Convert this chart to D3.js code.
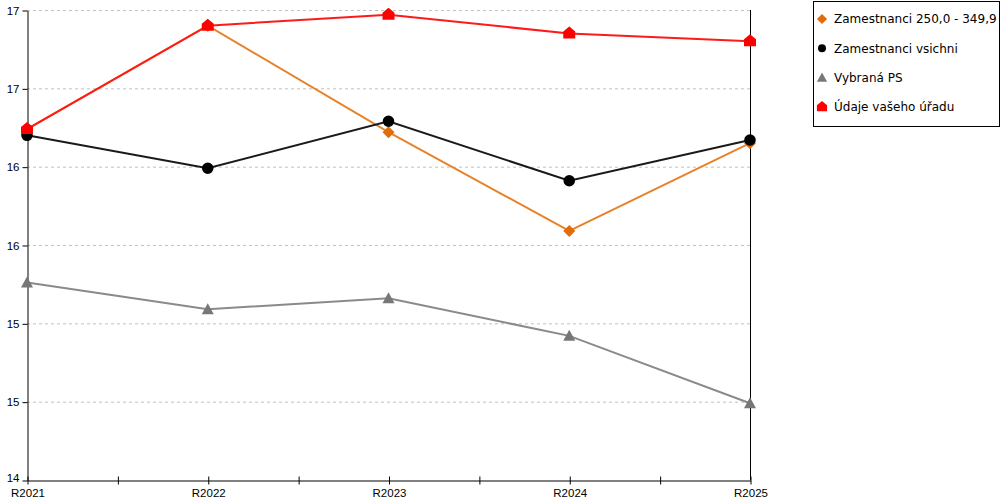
<!DOCTYPE html>
<html>
<head>
<meta charset="utf-8">
<script src="https://cdn.jsdelivr.net/npm/d3@7"></script>
<style>
	body { margin: 0; background: #fff; }
	svg { font-family: "DejaVu Sans", Verdana, sans-serif; }
	.axis text { font-size: 11.5px; fill: #000; }
	.axis path, .axis line { stroke: #000; }
	.grid line { stroke: #c0c0c0; stroke-dasharray: 3,3; }
	.legend text { font-size: 12px; }
</style>
</head>
<body>
<div id="chart"></div>
<script>
	const categories = ['R2021', 'R2022', 'R2023', 'R2024', 'R2025'];
	const yTicks = [14, 14.5, 15, 15.5, 16, 16.5, 17];

	const zam250 = [16.24, 16.90, 16.22, 15.59, 16.15];
	const zamVsichni = [16.20, 15.99, 16.29, 15.91, 16.17];
	const vybranaPS = [15.26, 15.09, 15.16, 14.92, 14.49];
	const vasUrad = [16.24, 16.90, 16.97, 16.85, 16.80];

	const seriesNames = ['Zamestnanci 250,0 - 349,9', 'Zamestnanci vsichni', 'Vybraná PS', 'Údaje vašeho úřadu'];

	// line colour, marker colour, marker kind
	const series = [
		{ name: seriesNames[0], values: zam250, line: '#e8822a', fill: '#e06c0a', shape: 'diamond' },
		{ name: seriesNames[1], values: zamVsichni, line: '#1a1a1a', fill: '#000', shape: 'circle' },
		{ name: seriesNames[2], values: vybranaPS, line: '#8a8a8a', fill: '#777', shape: 'triangle' },
		{ name: seriesNames[3], values: vasUrad, line: '#ff1a1a', fill: '#ff0000', shape: 'house' },
	];

	const width = 1000;
	const height = 500;
	const plot = { left: 27, right: 750, top: 10, bottom: 480 };

	const svg = d3.select('#chart').append('svg')
		.attr('width', width)
		.attr('height', height);

	const x = d3.scaleLinear()
		.domain([0, categories.length - 1])
		.range([plot.left, plot.right]);
	const y = d3.scaleLinear()
		.domain([14, 17])
		.range([plot.bottom, plot.top]);

	// grid
	svg.append('g')
		.attr('class', 'grid')
		.selectAll('line')
		.data(yTicks.filter(t => t > 14))
		.enter().append('line')
			.attr('x1', plot.left)
			.attr('x2', plot.right)
			.attr('y1', d => y(d) + 0.5)
			.attr('y2', d => y(d) + 0.5);

	// right border
	svg.append('line')
		.attr('x1', plot.right + 0.5)
		.attr('x2', plot.right + 0.5)
		.attr('y1', plot.top)
		.attr('y2', plot.bottom)
		.attr('stroke', '#000');

	// axes
	const xAxis = d3.axisBottom(x)
		.tickValues(d3.range(0, categories.length - 0.99, 0.5))
		.tickFormat(d => (Number.isInteger(d) ? categories[d] : ''))
		.tickSize(4)
		.tickSizeOuter(0)
		.tickPadding(4);
	const gx = svg.append('g')
		.attr('class', 'x axis')
		.attr('transform', `translate(0.5, ${plot.bottom + 0.5})`)
		.call(xAxis);
	gx.selectAll('.tick line').attr('y1', -4);

	const yAxis = d3.axisLeft(y)
		.tickValues(yTicks)
		.tickFormat(d => Math.round(d))
		.tickSize(5)
		.tickSizeOuter(0)
		.tickPadding(3);
	const gy = svg.append('g')
		.attr('class', 'y axis')
		.attr('transform', `translate(${plot.left + 0.5}, 0.5)`)
		.call(yAxis);
	// bottom label sits a little higher so it clears the category names
	gy.selectAll('.tick text').filter(d => d === 14).attr('dy', '0.1em');

	// markers
	const markerPath = (shape) => {
		if (shape === 'diamond') return 'M0,-6L6,0L0,6L-6,0Z';
		if (shape === 'triangle') return 'M0,-6L6,5L-6,5Z';
		if (shape === 'house') return 'M0,-7L6,-2L6,5L-6,5L-6,-2Z';
		return d3.symbol(d3.symbolCircle, 105)();
	};

	const line = d3.line()
		.x((d, i) => x(i))
		.y(d => y(d));

	const groups = svg.selectAll('.series')
		.data(series)
		.enter().append('g')
			.attr('class', 'series');
	groups.append('path')
		.attr('d', d => line(d.values))
		.attr('fill', 'none')
		.attr('stroke', d => d.line)
		.attr('stroke-width', 2);
	groups.each(function addMarkers(s) {
		d3.select(this).selectAll('path.mark')
			.data(s.values)
			.enter().append('path')
				.attr('class', 'mark')
				.attr('d', markerPath(s.shape))
				.attr('fill', s.fill)
				.attr('transform', (d, i) => `translate(${x(i)}, ${y(d)})`);
	});

	// legend
	const legend = svg.append('g')
		.attr('class', 'legend');
	legend.append('rect')
		.attr('x', 813.5)
		.attr('y', 1.5)
		.attr('width', 186)
		.attr('height', 125)
		.attr('fill', '#fff')
		.attr('stroke', '#000');
	const items = legend.selectAll('.item')
		.data(series)
		.enter().append('g')
			.attr('class', 'item')
			.attr('transform', (d, i) => `translate(822, ${19 + i * 29.3})`);
	items.append('path')
		.attr('d', d => (d.shape === 'circle' ? d3.symbol(d3.symbolCircle, 70)() : markerPath(d.shape)))
		.attr('transform', 'scale(0.85)')
		.attr('fill', d => d.fill);
	items.append('text')
		.attr('x', 12)
		.attr('dy', '.35em')
		.text(d => d.name);
</script>
</body>
</html>
